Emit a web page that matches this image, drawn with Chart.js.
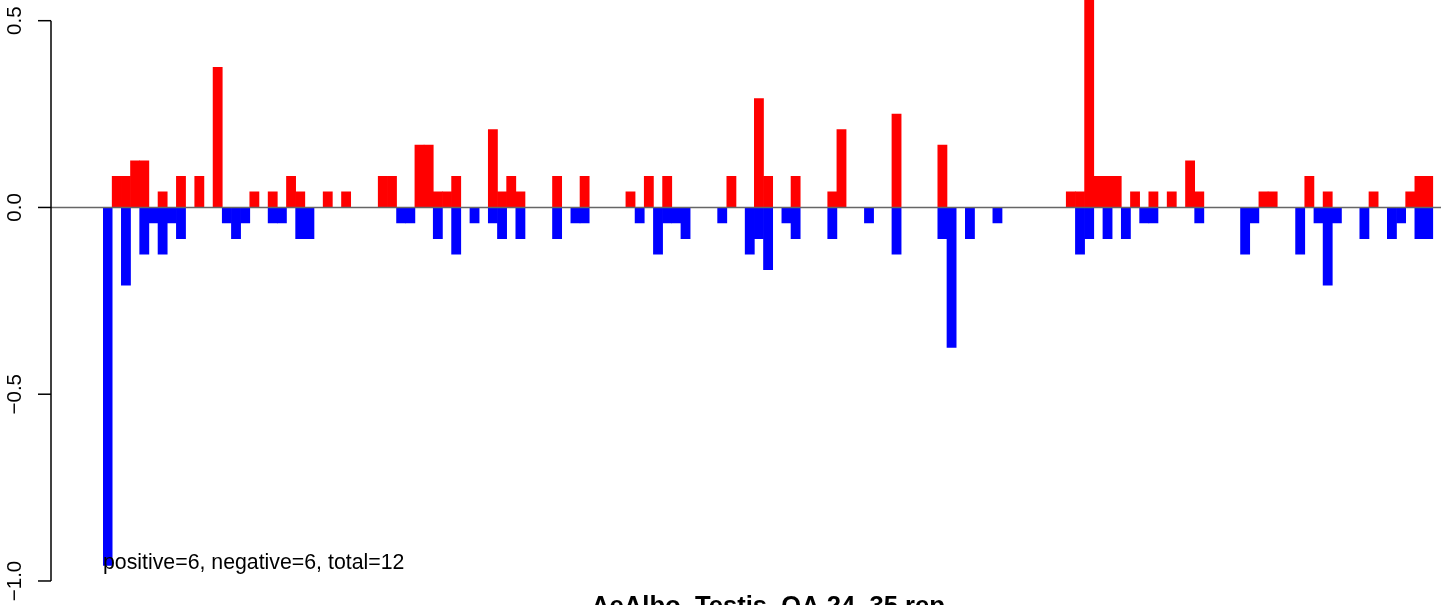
<!DOCTYPE html>
<html><head><meta charset="utf-8">
<script src="https://cdn.jsdelivr.net/npm/chart.js@4.4.1/dist/chart.umd.min.js"></script>
<style>html,body{margin:0;padding:0;background:#fff;overflow:hidden}canvas{display:block}</style>
</head><body>
<canvas id="c" width="1441" height="605"></canvas>
<script>
const positiveValues = [
  0, 0.0833, 0.0833, 0.125, 0.125, 0, 0.0417, 0, 0.0833, 0,
  0.0833, 0, 0.375, 0, 0, 0, 0.0417, 0, 0.0417, 0,
  0.0833, 0.0417, 0, 0, 0.0417, 0, 0.0417, 0, 0, 0,
  0.0833, 0.0833, 0, 0, 0.1667, 0.1667, 0.0417, 0.0417, 0.0833, 0,
  0, 0, 0.2083, 0.0417, 0.0833, 0.0417, 0, 0, 0, 0.0833,
  0, 0, 0.0833, 0, 0, 0, 0, 0.0417, 0, 0.0833,
  0, 0.0833, 0, 0, 0, 0, 0, 0, 0.0833, 0,
  0, 0.2917, 0.0833, 0, 0, 0.0833, 0, 0, 0, 0.0417,
  0.2083, 0, 0, 0, 0, 0, 0.25, 0, 0, 0,
  0, 0.1667, 0, 0, 0, 0, 0, 0, 0, 0,
  0, 0, 0, 0, 0, 0.0417, 0.0417, 0.5833, 0.0833, 0.0833,
  0.0833, 0, 0.0417, 0, 0.0417, 0, 0.0417, 0, 0.125, 0.0417,
  0, 0, 0, 0, 0, 0, 0.0417, 0.0417, 0, 0,
  0, 0.0833, 0, 0.0417, 0, 0, 0, 0, 0.0417, 0,
  0, 0, 0.0417, 0.0833, 0.0833
];
const negativeValues = [
  -0.9583, 0, -0.2083, 0, -0.125, -0.0417, -0.125, -0.0417, -0.0833, 0,
  0, 0, 0, -0.0417, -0.0833, -0.0417, 0, 0, -0.0417, -0.0417,
  0, -0.0833, -0.0833, 0, 0, 0, 0, 0, 0, 0,
  0, 0, -0.0417, -0.0417, 0, 0, -0.0833, 0, -0.125, 0,
  -0.0417, 0, -0.0417, -0.0833, 0, -0.0833, 0, 0, 0, -0.0833,
  0, -0.0417, -0.0417, 0, 0, 0, 0, 0, -0.0417, 0,
  -0.125, -0.0417, -0.0417, -0.0833, 0, 0, 0, -0.0417, 0, 0,
  -0.125, -0.0833, -0.1667, 0, -0.0417, -0.0833, 0, 0, 0, -0.0833,
  0, 0, 0, -0.0417, 0, 0, -0.125, 0, 0, 0,
  0, -0.0833, -0.375, 0, -0.0833, 0, 0, -0.0417, 0, 0,
  0, 0, 0, 0, 0, 0, -0.125, -0.0833, 0, -0.0833,
  0, -0.0833, 0, -0.0417, -0.0417, 0, 0, 0, 0, -0.0417,
  0, 0, 0, 0, -0.125, -0.0417, 0, 0, 0, 0,
  -0.125, 0, -0.0417, -0.2083, -0.0417, 0, 0, -0.0833, 0, 0,
  -0.0833, -0.0417, 0, -0.0833, -0.0833
];
const yTickValues = [0.5, 0, -0.5, -1];
const yTickLabels = ['0.5', '0.0', '\u22120.5', '\u22121.0'];
const chartTitle = 'AeAlbo_Testis_OA 24_35 rep';
const summaryText = 'positive=6, negative=6, total=12';

const categories = positiveValues.map((_, i) => String(i + 1));
const FONT = '"Liberation Sans", Arial, Helvetica, sans-serif';

const rAxis = {
  id: 'rAxis',
  afterDatasetsDraw(chart) {
    const ctx = chart.ctx;
    const y = chart.scales.y;
    const axisX = 51;
    ctx.save();
    // zero reference line
    const y0 = y.getPixelForValue(0);
    ctx.strokeStyle = '#666666';
    ctx.lineWidth = 1.5;
    ctx.beginPath();
    ctx.moveTo(axisX, y0);
    ctx.lineTo(chart.width, y0);
    ctx.stroke();
    // y axis line
    ctx.strokeStyle = '#000000';
    ctx.lineWidth = 1.5;
    ctx.beginPath();
    ctx.moveTo(axisX, y.getPixelForValue(yTickValues[0]));
    ctx.lineTo(axisX, y.getPixelForValue(yTickValues[yTickValues.length - 1]));
    ctx.stroke();
    ctx.font = '20.5px ' + FONT;
    ctx.fillStyle = '#000000';
    yTickValues.forEach((v, i) => {
      const py = y.getPixelForValue(v);
      ctx.beginPath();
      ctx.moveTo(axisX, py);
      ctx.lineTo(axisX - 13, py);
      ctx.stroke();
      ctx.save();
      ctx.translate(20.5, py);
      ctx.rotate(-Math.PI / 2);
      ctx.textAlign = 'center';
      ctx.textBaseline = 'alphabetic';
      ctx.fillText(yTickLabels[i], 0, 0);
      ctx.restore();
    });
    // summary text
    ctx.font = '21.3px ' + FONT;
    ctx.textAlign = 'left';
    ctx.textBaseline = 'alphabetic';
    ctx.fillText(summaryText, chart.chartArea.left, 569);
    // title
    ctx.font = 'bold 25.6px ' + FONT;
    ctx.textAlign = 'center';
    ctx.fillText(chartTitle, 768, 614);
    ctx.restore();
  }
};

new Chart(document.getElementById('c'), {
  type: 'bar',
  data: {
    labels: categories,
    datasets: [
      { label: 'positive', data: positiveValues.map(v => v === 0 ? null : v), backgroundColor: '#FF0000',
        borderWidth: 0, grouped: false, barPercentage: 1, categoryPercentage: 1 },
      { label: 'negative', data: negativeValues.map(v => v === 0 ? null : v), backgroundColor: '#0000FF',
        borderWidth: 0, grouped: false, barPercentage: 1, categoryPercentage: 1 }
    ]
  },
  options: {
    responsive: false,
    animation: false,
    devicePixelRatio: 1,
    layout: { padding: { left: 103, right: 7.8, top: 0, bottom: 0 } },
    plugins: { legend: { display: false }, tooltip: { enabled: false }, title: { display: false } },
    scales: {
      x: { display: false, offset: true, grid: { display: false } },
      y: { display: false, min: -1.0643, max: 0.5554, grid: { display: false } }
    }
  },
  plugins: [rAxis]
});
</script>
</body></html>
